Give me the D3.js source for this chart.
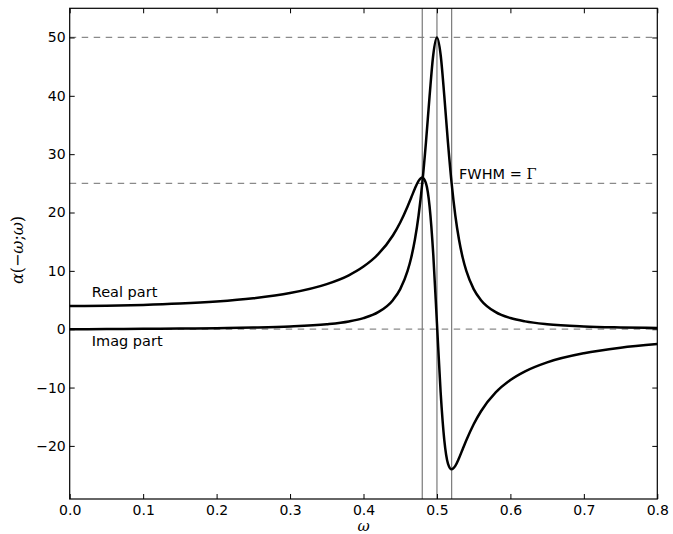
<!DOCTYPE html>
<html>
<head>
<meta charset="utf-8">
<script src="https://cdnjs.cloudflare.com/ajax/libs/d3/7.8.5/d3.min.js"></script>
<style>
  body { margin: 0; background: #fff; }
  .tick text { font-family: "DejaVu Sans", sans-serif; font-size: 14px; fill: #000; }
  .domain { display: none; }
  .tick line { stroke: #000; stroke-width: 1; }
</style>
</head>
<body>
<div id="viz"></div>
<script>

// frequency samples (omega)
var omega = [0, 0.05, 0.1, 0.15, 0.2, 0.25, 0.3, 0.35, 0.38, 0.4, 0.42, 0.44, 0.45, 0.46, 0.465,
  0.47, 0.475, 0.48, 0.485, 0.49, 0.495, 0.5, 0.505, 0.51, 0.515, 0.52, 0.525, 0.53, 0.535,
  0.54, 0.55, 0.56, 0.58, 0.6, 0.62, 0.65, 0.7, 0.75, 0.8];

var realPart = [3.99, 4.03, 4.16, 4.39, 4.75, 5.31, 6.2, 7.73, 9.24, 10.73, 12.85, 16.06, 18.29, 21.04, 22.57,
  24.11, 25.42, 26.02, 25.02, 21.01, 12.77, 1.0, -10.77, -19.01, -23.02, -24.02, -23.42, -22.11, -20.57,
  -19.04, -16.29, -14.06, -10.84, -8.71, -7.22, -5.68, -4.12, -3.18, -2.55];

// imaginary part, the peak at 0.5
var imagPart = [0, 0.03, 0.07, 0.12, 0.18, 0.28, 0.46, 0.85, 1.33, 1.9, 2.92, 4.98, 6.87, 9.98, 12.29,
  15.36, 19.49, 24.98, 31.98, 39.98, 47.04, 49.98, 47.04, 39.98, 31.98, 24.98, 19.49, 15.36, 12.29,
  9.98, 6.88, 4.98, 2.92, 1.91, 1.34, 0.86, 0.48, 0.31, 0.21];

// reference lines
var hLines = [50, 25, 0];
var vLines = [0.48, 0.5, 0.52];

var xTicks = [0, 0.1, 0.2, 0.3, 0.4, 0.5, 0.6, 0.7, 0.8];
var yTicks = [-20, -10, 0, 10, 20, 30, 40, 50];

var width = 673,
    height = 534;

// plot box (window.top is reserved, so no plain "top")
var plotL = 69.7, plotR = 657.3, plotT = 8.3, plotB = 499;

var x = d3.scaleLinear().domain([0, 0.8]).range([plotL, plotR]);
var y = d3.scaleLinear().domain([-29.1, 55]).range([plotB, plotT]);

var svg = d3.select("#viz")
  .append("svg")
  .attr("width", width)
  .attr("height", height);

//dashed horizontal guides
svg.selectAll(".hline")
  .data(hLines)
  .enter()
  .append("line")
  .attr("class", "hline")
  .attr("x1", plotL)
  .attr("x2", plotR)
  .attr("y1", function(d) { return y(d); })
  .attr("y2", function(d) { return y(d); })
  .attr("stroke", "#8a8a8a")
  .attr("stroke-width", 1.3)
  .attr("stroke-dasharray", "6.5,5.5");

//vertical lines at w0 and w0 +- gamma/2
svg.selectAll(".vline")
  .data(vLines)
  .enter()
  .append("line")
  .attr("class", "vline")
  .attr("x1", function(d) { return x(d); })
  .attr("x2", function(d) { return x(d); })
  .attr("y1", plotT)
  .attr("y2", plotB)
  .attr("stroke", "#7a7a7a")
  .attr("stroke-width", 1.2);

//curves
var line = d3.line()
  .x(function(d) { return x(d[0]); })
  .y(function(d) { return y(d[1]); })
  .curve(d3.curveMonotoneX);

var series = [realPart, imagPart];

svg.selectAll(".curve")
  .data(series)
  .enter()
  .append("path")
  .attr("class", "curve")
  .attr("d", function(vals) { return line(omega.map(function(w, i) { return [w, vals[i]]; })); })
  .attr("fill", "none")
  .attr("stroke", "#000")
  .attr("stroke-width", 2.5)
  .attr("stroke-linejoin", "round");

//axes, ticks pointing inward
function fmtY(d) { return d < 0 ? "\u2212" + Math.abs(d) : d; }

svg.append("g")
  .attr("transform", "translate(0," + plotB + ")")
  .call(d3.axisBottom(x).tickValues(xTicks).tickFormat(d3.format(".1f")).tickSizeInner(-5).tickSizeOuter(0).tickPadding(6));

svg.append("g")
  .attr("transform", "translate(0," + plotT + ")")
  .call(d3.axisTop(x).tickValues(xTicks).tickFormat("").tickSizeInner(-5).tickSizeOuter(0));

svg.append("g")
  .attr("transform", "translate(" + plotL + ",0)")
  .call(d3.axisLeft(y).tickValues(yTicks).tickFormat(fmtY).tickSizeInner(-5).tickSizeOuter(0).tickPadding(4));

svg.append("g")
  .attr("transform", "translate(" + plotR + ",0)")
  .call(d3.axisRight(y).tickValues(yTicks).tickFormat("").tickSizeInner(-5).tickSizeOuter(0));

//frame
svg.append("rect")
  .attr("x", plotL)
  .attr("y", plotT)
  .attr("width", plotR - plotL)
  .attr("height", plotB - plotT)
  .attr("fill", "none")
  .attr("stroke", "#000")
  .attr("stroke-width", 1.2);

//annotations
var sans = "'DejaVu Sans', sans-serif";

svg.append("text")
  .attr("x", x(0.03))
  .attr("y", 297.3)
  .style("font-family", sans)
  .style("font-size", "14.5px")
  .text("Real part");

svg.append("text")
  .attr("x", x(0.03))
  .attr("y", 345.7)
  .style("font-family", sans)
  .style("font-size", "14.5px")
  .text("Imag part");

var fw = svg.append("text")
  .attr("x", x(0.53))
  .attr("y", 179)
  .style("font-family", sans)
  .style("font-size", "14.5px")
  .text("FWHM = ");
fw.append("tspan")
  .style("font-family", "'DejaVu Serif', serif")
  .text("\u0393");

//axis labels
svg.append("text")
  .attr("x", (plotL + plotR) / 2)
  .attr("y", 531)
  .attr("text-anchor", "middle")
  .style("font-family", "'DejaVu Serif', serif")
  .style("font-style", "italic")
  .style("font-size", "15px")
  .text("\u03c9");

svg.append("text")
  .attr("transform", "translate(23,250) rotate(-90)")
  .attr("text-anchor", "middle")
  .style("font-family", "'DejaVu Serif', serif")
  .style("font-size", "16px")
  .html("<tspan font-style='italic'>\u03b1</tspan>(\u2212<tspan font-style='italic'>\u03c9</tspan>;<tspan font-style='italic'>\u03c9</tspan>)");

</script>
</body>
</html>
